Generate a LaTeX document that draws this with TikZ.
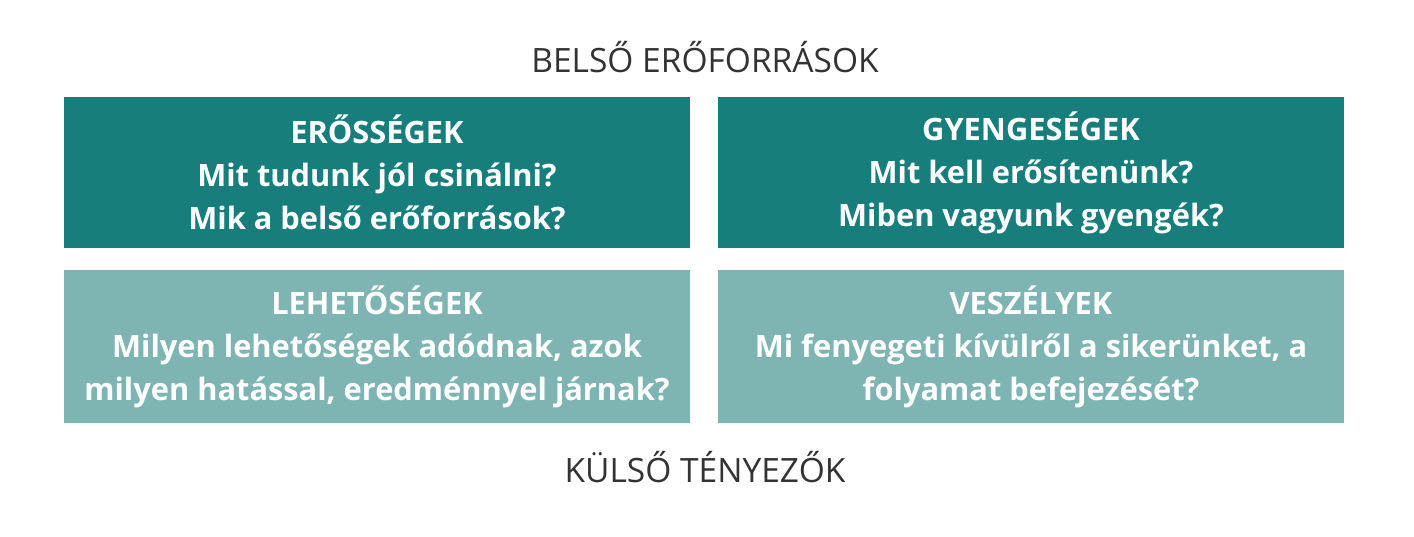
\documentclass[tikz,border=0pt]{standalone}
\usepackage{fontspec}
\setmainfont{Open Sans}
\usepackage{tikz}
\usetikzlibrary{positioning}
\definecolor{tealdark}{RGB}{23,126,123}
\definecolor{teallight}{RGB}{126,181,179}

\begin{document}
\begin{tikzpicture}[
  x=1pt, y=-1pt,
  quad/.style={fill=tealdark, minimum width=626pt, minimum height=151pt,
               inner sep=0pt, align=center, text=white,
               font=\bfseries\fontsize{30.8}{43}\selectfont},
  quadl/.style={quad, fill=teallight, minimum height=153pt},
  axis/.style={font=\fontsize{33.5}{38}\selectfont, text=black!80},
]
  \useasboundingbox (0,0) rectangle (1414,537);
  % inner factors
  \node[axis] (belso) at (705,57) {BELSŐ ERŐFORRÁSOK};
  \node[quad] (eros) at (377,172.5) {ERŐSSÉGEK\\ Mit tudunk jól csinálni?\\ Mik a belső erőforrások?};
  \node[quad] (gyenge) at (1031,172.5) {GYENGESÉGEK\\ Mit kell erősítenünk?\\ Miben vagyunk gyengék?};
  % outer factors
  \node[quadl] (lehet) at (377,346.5) {LEHETŐSÉGEK\\ Milyen lehetőségek adódnak, azok\\ milyen hatással, eredménnyel járnak?};
  \node[quadl] (veszely) at (1031,346.5) {VESZÉLYEK\\ Mi fenyegeti kívülről a sikerünket, a\\ folyamat befejezését?};
  \node[axis] (kulso) at (705,467) {KÜLSŐ TÉNYEZŐK};
\end{tikzpicture}
\end{document}
